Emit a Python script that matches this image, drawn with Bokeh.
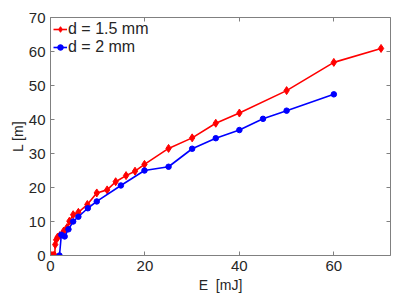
from bokeh.plotting import figure
from bokeh.models import LinearAxis, FixedTicker, Range1d, Legend, LegendItem
from bokeh.embed import file_html
from bokeh.resources import INLINE

# d = 1.5 mm
e_red = [0, 0.3, 0.6, 0.9, 1.0, 1.2, 1.5, 2.0, 2.8, 3.5, 4.0, 4.8, 5.9, 7.8, 9.8, 12, 13.8, 16, 17.9, 19.9, 25, 30, 35, 40, 50, 60, 70]
l_red = [0, 0, 0, 0, 3.2, 4.6, 5.4, 5.9, 7.2, 8.2, 10.1, 12.0, 12.7, 15.0, 18.4, 19.3, 21.7, 23.5, 24.8, 26.8, 31.5, 34.6, 38.9, 41.9, 48.5, 56.8, 60.9]
# d = 2 mm
e_blue = [1.9, 2.3, 3.0, 3.8, 4.8, 5.9, 7.9, 9.8, 14.9, 19.9, 25, 30, 35, 40, 45, 50, 60]
l_blue = [0, 6.1, 5.6, 7.7, 10.0, 11.4, 13.9, 15.9, 20.6, 25.0, 26.1, 31.4, 34.5, 36.9, 40.2, 42.6, 47.4]

x_ticks = [0, 20, 40, 60]
y_ticks = [0, 10, 20, 30, 40, 50, 60, 70]

FONT = "Liberation Sans"
AX = "#808080"
TXT = "#262626"

p = figure(width=410, height=295, output_backend="svg", toolbar_location=None,
           x_range=Range1d(0, 72), y_range=Range1d(0, 70),
           min_border_left=50, min_border_right=20, min_border_top=17, min_border_bottom=40)
p.grid.visible = False
p.outline_line_color = None
p.background_fill_color = "white"

for ax, ticks in ((p.xaxis[0], x_ticks), (p.yaxis[0], y_ticks)):
    ax.ticker = FixedTicker(ticks=ticks)
    ax.major_tick_in = 4
    ax.major_tick_out = 0
    ax.minor_tick_line_color = None
    ax.axis_line_color = AX
    ax.major_tick_line_color = AX
    ax.major_label_text_font = FONT
    ax.major_label_text_font_size = "15px"
    ax.major_label_text_color = TXT
    ax.axis_label_text_font = FONT
    ax.axis_label_text_font_size = "14px"
    ax.axis_label_text_font_style = "normal"
    ax.axis_label_text_color = TXT
p.xaxis[0].axis_label = "E\u00a0\u00a0[mJ]"
p.yaxis[0].axis_label = "L [m]"
p.xaxis[0].axis_label_standoff = 3
p.yaxis[0].axis_label_standoff = 0
p.xaxis[0].major_label_standoff = 5
p.yaxis[0].major_label_standoff = 5

for loc, ticks in (("above", x_ticks), ("right", y_ticks)):
    a = LinearAxis(ticker=FixedTicker(ticks=ticks))
    a.major_tick_in = 4
    a.major_tick_out = 0
    a.minor_tick_line_color = None
    a.axis_line_color = AX
    a.major_tick_line_color = AX
    a.major_label_text_color = None
    a.major_label_text_font_size = "1px"
    a.major_label_standoff = 0
    p.add_layout(a, loc)

r_line = p.line(e_red, l_red, line_color="red", line_width=1.6)
r_mark = p.scatter(e_red, l_red, marker="diamond", size=8, fill_color="red", line_color="red")
b_line = p.line(e_blue, l_blue, line_color="blue", line_width=1.6)
b_mark = p.scatter(e_blue, l_blue, marker="circle", size=5.5, fill_color="blue", line_color="blue")

legend = Legend(items=[LegendItem(label="d = 1.5 mm", renderers=[r_line, r_mark]),
                       LegendItem(label="d = 2 mm", renderers=[b_line, b_mark])],
                location="top_left")
legend.background_fill_alpha = 0
legend.border_line_color = None
legend.label_text_font = FONT
legend.label_text_font_size = "16px"
legend.label_text_color = TXT
legend.glyph_width = 14
legend.glyph_height = 16
legend.spacing = 0
legend.padding = 1
legend.margin = 3
legend.label_standoff = 1
p.add_layout(legend)

open("out.html", "w").write(file_html(p, INLINE))
